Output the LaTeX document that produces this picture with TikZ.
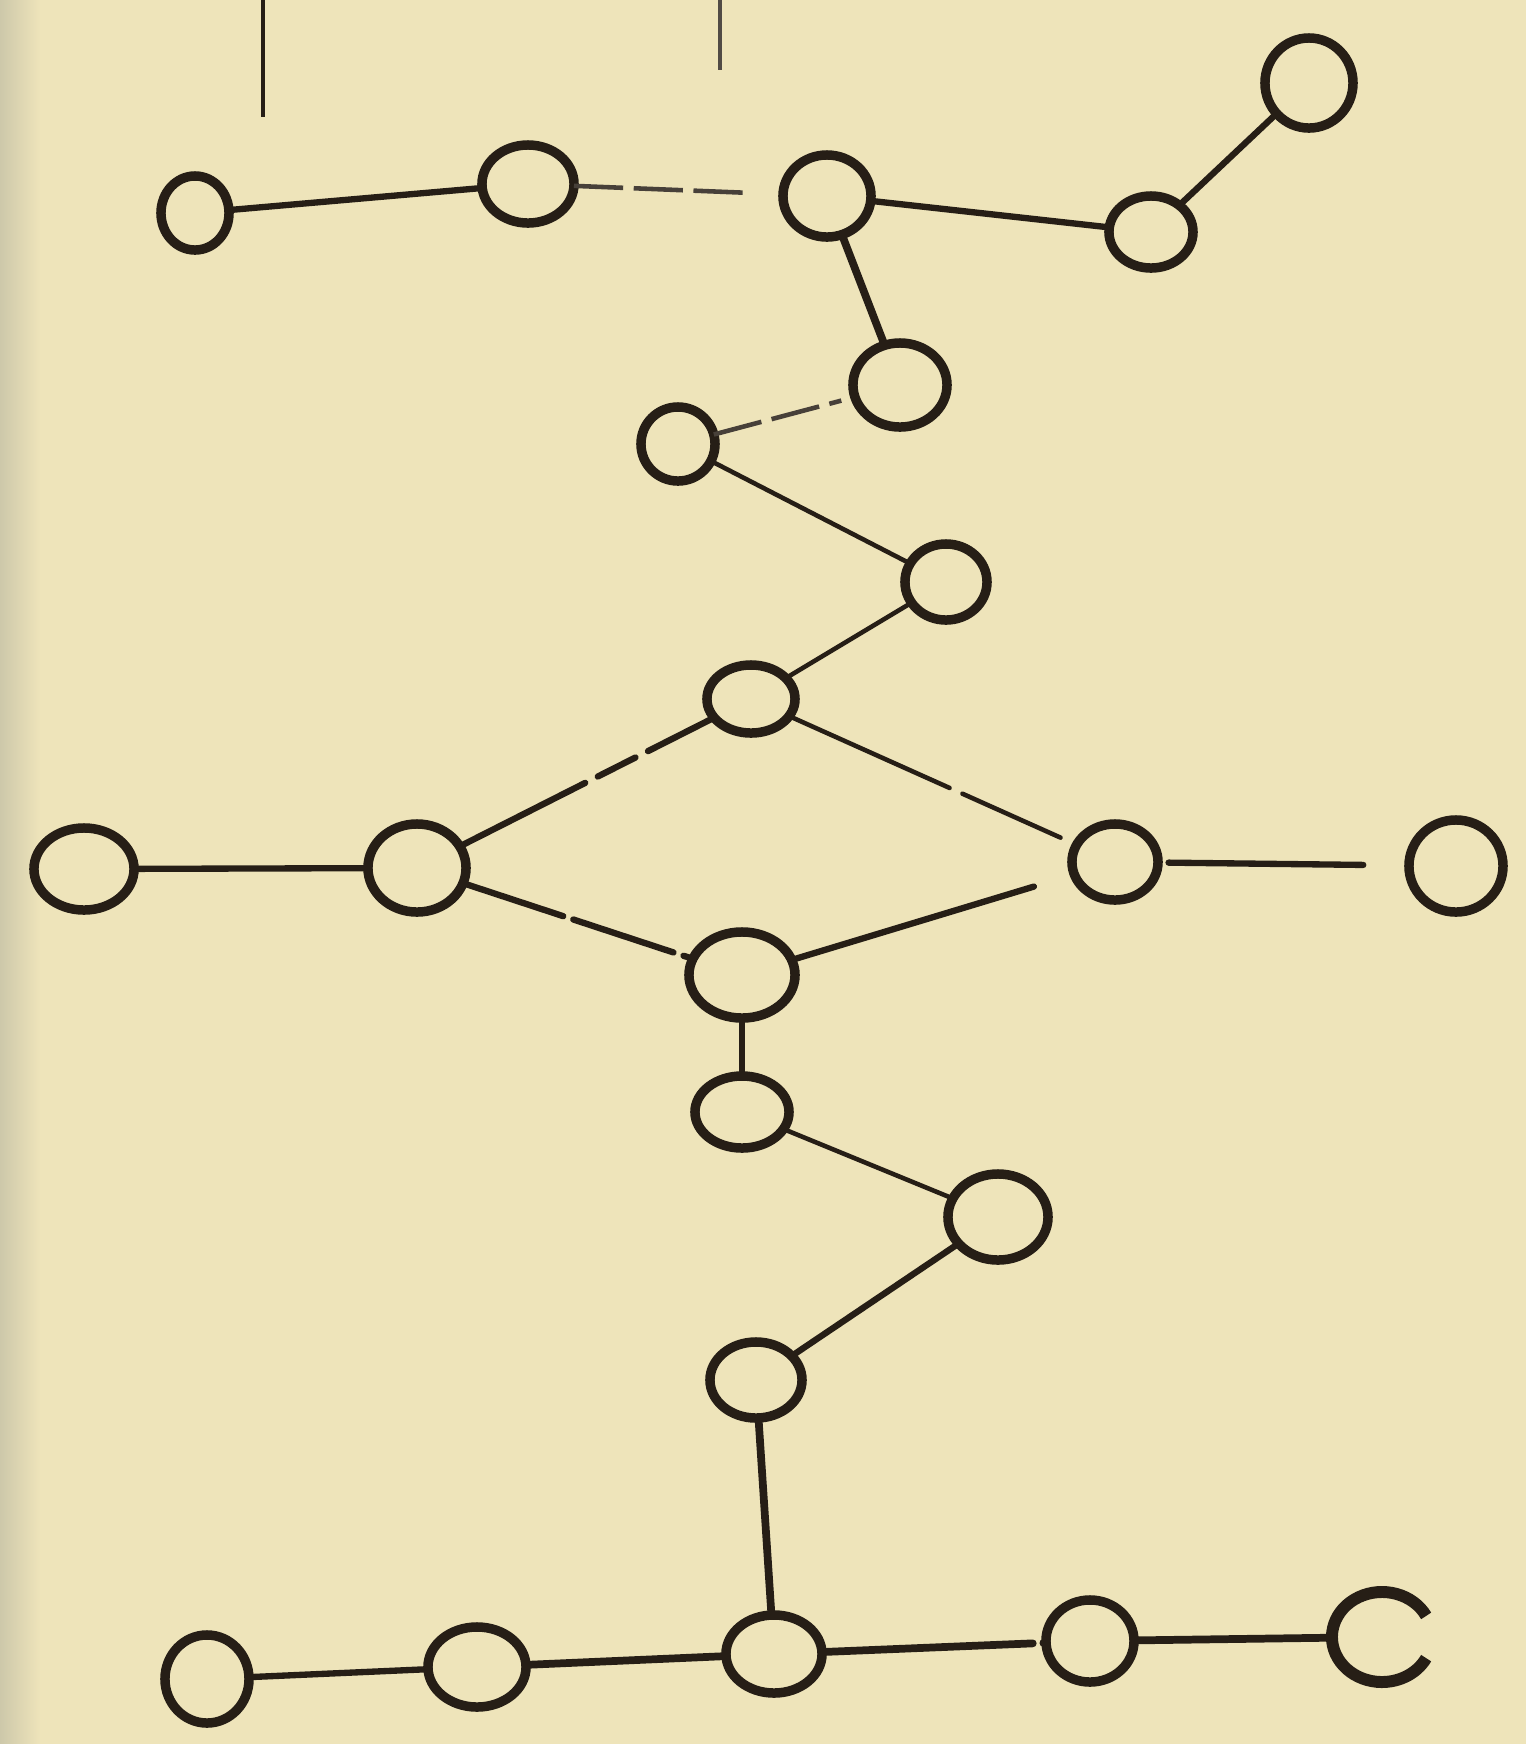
\documentclass[tikz,border=0pt]{standalone}
\usetikzlibrary{shapes.geometric}
\definecolor{paper}{RGB}{238,228,186}
\definecolor{paperedge}{RGB}{205,200,170}
\definecolor{ink}{RGB}{38,30,22}
\tikzset{
  ov/.style 2 args={ellipse,draw=ink,line width=2.7pt,inner sep=0pt,outer sep=0pt,
     minimum width=#1*0.02cm,minimum height=#2*0.02cm},
  ghost/.style 2 args={ellipse,inner sep=0pt,outer sep=0pt,
     minimum width=#1*0.02cm,minimum height=#2*0.02cm},
  bond/.style={draw=ink,line width=1.8pt,line cap=round},
  heavybond/.style={draw=ink,line width=2.2pt,line cap=round},
  thinbond/.style={draw=ink,line width=1.3pt,line cap=round},
  faint/.style={draw=ink!85,line width=1.3pt,dash pattern=on 14pt off 3pt},
  rule/.style={draw=ink,line width=0.9pt}
}
\begin{document}
\begin{tikzpicture}[x=0.01cm,y=-0.01cm]
\fill[paper] (0,0) rectangle (1526,1744);
\shade[left color=paperedge,right color=paper] (0,0) rectangle (40,1744);
\useasboundingbox (0,0) rectangle (1526,1744);

% top free lines
\coordinate (t1a) at (263,0);  \coordinate (t1b) at (263,117);
\coordinate (t2a) at (720,0);  \coordinate (t2b) at (720,70);
\draw[rule] (t1a) -- (t1b);
\draw[rule,ink!80] (t2a) -- (t2b);

% nodes
\node[ov={34}{37}] (A) at (195,213) {};
\node[ov={46}{39}] (B) at (528,184) {};
\node[ov={44}{41}] (C) at (827,196) {};
\node[ov={42}{36}] (D) at (1151,232) {};
\node[ov={44}{45}] (E) at (1309,83) {};
\node[ov={47}{42}] (F) at (900,385) {};
\node[ov={37}{37}] (G) at (678,444) {};
\node[ov={41}{38}] (H) at (946,582) {};
\node[ov={44}{34}] (I) at (751,699) {};
\node[ov={50}{41}] (J) at (84,869) {};
\node[ov={49}{44}] (K) at (417,868) {};
\node[ov={43}{38}] (L) at (1115,862) {};
\node[ov={47}{46}] (M) at (1456,866) {};
\node[ov={53}{43}] (N) at (742,975) {};
\node[ov={47}{36}] (O) at (742,1112) {};
\node[ov={50}{43}] (P) at (998,1217) {};
\node[ov={46}{38}] (Q) at (756,1380) {};
\node[ov={42}{44}] (R) at (207,1679) {};
\node[ov={49}{40}] (S) at (477,1667) {};
\node[ov={48}{39}] (T) at (774,1654) {};
\node[ov={44}{41}] (U) at (1090,1641) {};
\node[ghost={50}{45}] (V) at (1382,1637) {};
\draw[draw=ink,line width=3.4pt]
  ([shift={(28:0.5cm and 0.45cm)}]V.center)
  arc[start angle=28,end angle=332,x radius=0.5cm,y radius=0.45cm];

% connectors
\draw[bond] (A) -- (B);
\draw[faint,shorten >=10pt] (B) -- (C);
\draw[bond] (C) -- (D);
\draw[bond] (D) -- (E);
\draw[heavybond] (C) -- (F);
\draw[faint,shorten >=4pt] (G) -- (F);
\draw[thinbond] (G) -- (H);
\draw[thinbond] (H) -- (I);
\draw[bond,dash pattern=on 40pt off 4pt on 12pt off 4pt] (K) -- (I);
\draw[thinbond,dash pattern=on 50pt off 4pt,shorten >=5pt] (I) -- (L);
\draw[bond] (J) -- (K);
\draw[bond,shorten >=12pt] (N) -- (L);
\draw[bond,dash pattern=on 30pt off 3pt] (K) -- (N);
\draw[bond,shorten <=3pt,shorten >=13pt] (L) -- (M);
\draw[bond] (N) -- (O);
\draw[thinbond] (O) -- (P);
\draw[bond] (P) -- (Q);
\draw[heavybond] (Q) -- (T);
\draw[bond] (R) -- (S);
\draw[heavybond] (S) -- (T);
\draw[heavybond,dash pattern=on 60pt off 3pt on 3pt off 3pt] (T) -- (U);
\draw[heavybond] (U) -- (V);
\end{tikzpicture}
\end{document}
